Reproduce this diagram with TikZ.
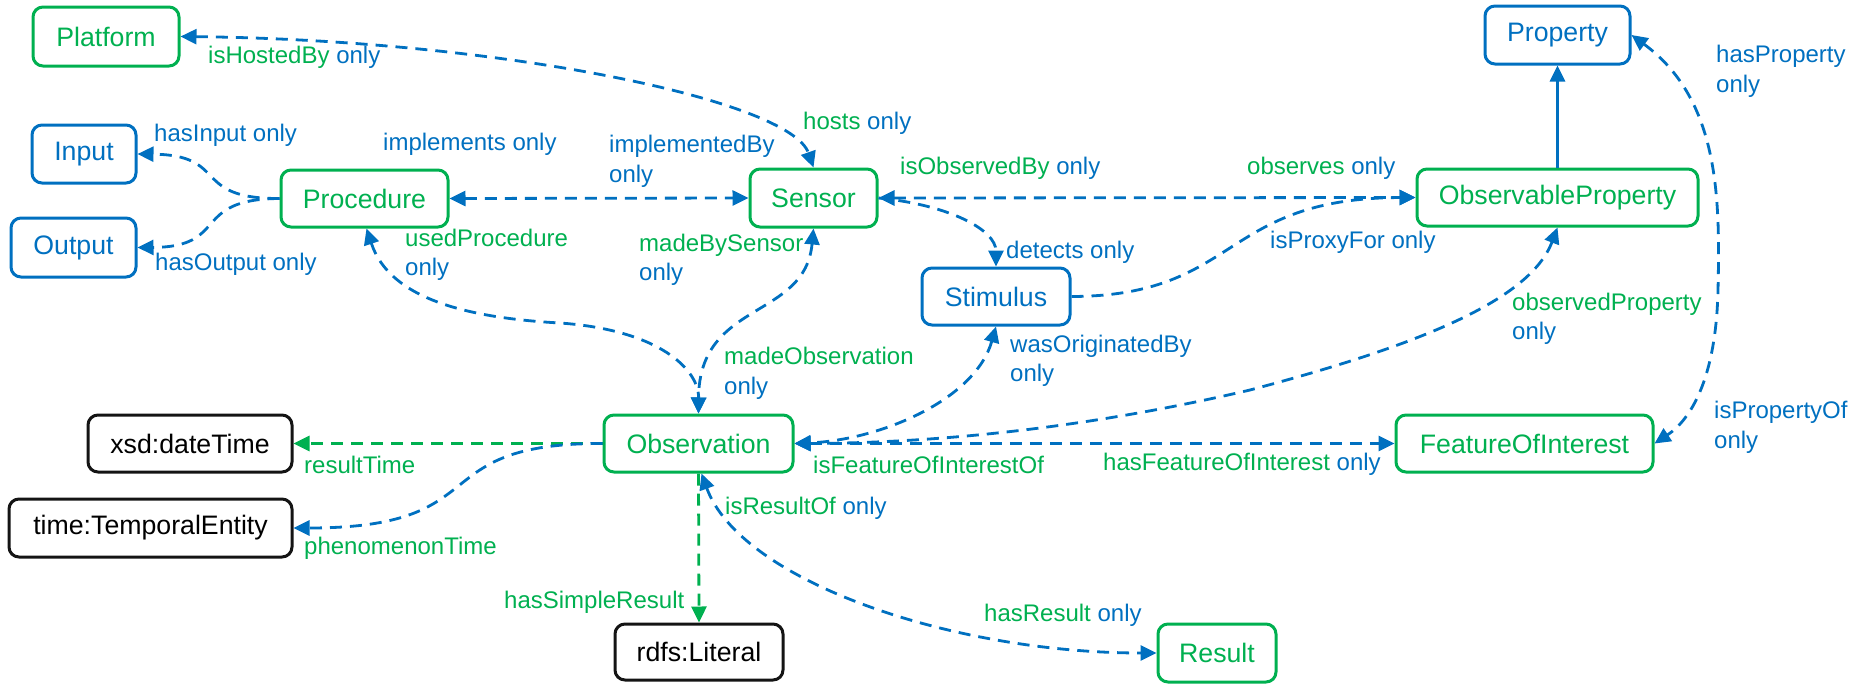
\documentclass[tikz,border=0pt]{standalone}
\usepackage{fontspec}
\setmainfont{Liberation Sans}
\usetikzlibrary{arrows.meta}
\definecolor{sgreen}{RGB}{0,176,80}
\definecolor{sblue}{RGB}{0,112,192}
\definecolor{sblack}{RGB}{20,20,20}
\newcommand\gtxt[1]{\textcolor{sgreen}{#1}}
\newcommand\btxt[1]{\textcolor{sblue}{#1}}
\tikzset{
  >={Triangle[length=16pt,width=15pt]},
  box/.style={draw, rounded corners=10pt, line width=3pt, inner sep=0pt,
              font=\fontsize{26.7}{32}\selectfont},
  gbox/.style={box, draw=sgreen, text=sgreen},
  bbox/.style={box, draw=sblue, text=sblue},
  kbox/.style={box, draw=sblack, text=black},
  lab/.style={inner sep=0pt, anchor=west, align=left,
              font=\fontsize{24}{29.5}\selectfont},
  dedge/.style={line width=2.8pt, dash pattern=on 12pt off 8pt, draw=sblue},
  gedge/.style={dedge, draw=sgreen},
  sedge/.style={line width=3pt, draw=sblue}
}
\begin{document}
\begin{tikzpicture}[x=1pt,y=-1pt]
\useasboundingbox (0,0) rectangle (1866,683);

% nodes
\node[gbox, minimum width=146pt, minimum height=59pt] (Platform) at (106,36.5) {Platform};
\node[bbox, minimum width=104pt, minimum height=58pt] (Input) at (84,154) {Input};
\node[bbox, minimum width=125pt, minimum height=59pt] (Output) at (73.5,247.5) {Output};
\node[gbox, minimum width=167pt, minimum height=57pt] (Procedure) at (364.5,198.5) {Procedure};
\node[gbox, minimum width=127pt, minimum height=58pt] (Sensor) at (813.5,198) {Sensor};
\node[bbox, minimum width=148pt, minimum height=57pt] (Stimulus) at (996,296.5) {Stimulus};
\node[bbox, minimum width=145pt, minimum height=58pt] (Property) at (1557.5,35) {Property};
\node[gbox, minimum width=281pt, minimum height=57pt] (ObsProp) at (1557.5,197.5) {ObservableProperty};
\node[gbox, minimum width=257pt, minimum height=57pt] (FoI) at (1524.5,443.5) {FeatureOfInterest};
\node[gbox, minimum width=189pt, minimum height=57pt] (Observation) at (698.5,443.5) {Observation};
\node[kbox, minimum width=204pt, minimum height=57pt] (xsd) at (190,443.5) {xsd:dateTime};
\node[kbox, minimum width=283pt, minimum height=58pt] (tte) at (150.5,528) {time:TemporalEntity};
\node[kbox, minimum width=168pt, minimum height=56pt] (lit) at (699,652) {rdfs:Literal};
\node[gbox, minimum width=118pt, minimum height=58pt] (Result) at (1217,653) {Result};

% connectors
\draw[dedge,<->] (Platform.east) .. controls (500,40) and (790,100) .. (Sensor.north);
\draw[dedge,->] (Procedure.west) .. controls (190,199) and (230,155) .. (Input.east);
\draw[dedge,->] (Procedure.west) .. controls (190,199) and (230,247) .. (Output.east);
\draw[dedge,<->] (Procedure.east) -- (Sensor.west);
\draw[dedge,<->] (Sensor.east) -- (ObsProp.west);
\draw[dedge,->] (Sensor.east) .. controls (950,205) and (996,230) .. (Stimulus.north);
\draw[dedge,->] (Stimulus.east) .. controls (1240,296) and (1220,198) .. (ObsProp.west);
\draw[sedge,->] (ObsProp.north) -- (Property.south);
\draw[dedge,<->] (Property.east) .. controls (1720,100) and (1720,200) .. (1718,290)
      .. controls (1716,380) and (1690,420) .. (FoI.east);
\draw[dedge,<->] ([xshift=2pt]Procedure.south) .. controls (390,300) and (470,318) .. (560,323)
      .. controls (660,330) and (699,370) .. (Observation.north);
\draw[dedge,<->] (Sensor.south) .. controls (805,320) and (699,300) .. (Observation.north);
\draw[dedge,<->] (Stimulus.south) .. controls (975,400) and (880,440) .. (Observation.east);
\draw[dedge,<->] (ObsProp.south) .. controls (1530,300) and (1420,345) .. (1250,390)
      .. controls (1100,425) and (950,443) .. (Observation.east);
\draw[dedge,<->] (Observation.east) -- (FoI.west);
\draw[gedge,->] (Observation.west) -- (xsd.east);
\draw[dedge,->] (Observation.west) .. controls (420,443) and (500,528) .. (tte.east);
\draw[gedge,->] (Observation.south) -- (lit.north);
\draw[dedge,<->] ([xshift=3pt]Observation.south) .. controls (740,580) and (950,653) .. (Result.west);

% labels
\node[lab] (l1) at (208,57) {\gtxt{isHostedBy} \btxt{only}};
\node[lab] (l2) at (803,123) {\gtxt{hosts} \btxt{only}};
\node[lab] (l3) at (154,135) {\btxt{hasInput only}};
\node[lab] (l4) at (383,144) {\btxt{implements only}};
\node[lab] (l5) at (609,161.5) {\btxt{implementedBy}\\\btxt{only}};
\node[lab] (l6) at (900,168) {\gtxt{isObservedBy} \btxt{only}};
\node[lab] (l7) at (1247,168) {\gtxt{observes} \btxt{only}};
\node[lab] (l8) at (1716,71.5) {\btxt{hasProperty}\\\btxt{only}};
\node[lab] (l9) at (155,264) {\btxt{hasOutput only}};
\node[lab] (l10) at (405,255) {\gtxt{usedProcedure}\\\btxt{only}};
\node[lab] (l11) at (639,260) {\gtxt{madeBySensor}\\\btxt{only}};
\node[lab] (l12) at (1006,252) {\btxt{detects only}};
\node[lab] (l13) at (1270,242) {\btxt{isProxyFor only}};
\node[lab] (l14) at (724,373.5) {\gtxt{madeObservation}\\\btxt{only}};
\node[lab] (l15) at (1010,361) {\btxt{wasOriginatedBy}\\\btxt{only}};
\node[lab] (l16) at (1512,319) {\gtxt{observedProperty}\\\btxt{only}};
\node[lab] (l17) at (1714,427.5) {\btxt{isPropertyOf}\\\btxt{only}};
\node[lab] (l18) at (304,465) {\gtxt{resultTime}};
\node[lab] (l19) at (813,465) {\gtxt{isFeatureOfInterestOf}};
\node[lab] (l20) at (1103,464) {\gtxt{hasFeatureOfInterest} \btxt{only}};
\node[lab] (l21) at (304,548) {\gtxt{phenomenonTime}};
\node[lab] (l22) at (725,508) {\gtxt{isResultOf} \btxt{only}};
\node[lab] (l23) at (504,602) {\gtxt{hasSimpleResult}};
\node[lab] (l24) at (984,615) {\gtxt{hasResult} \btxt{only}};
\end{tikzpicture}
\end{document}
